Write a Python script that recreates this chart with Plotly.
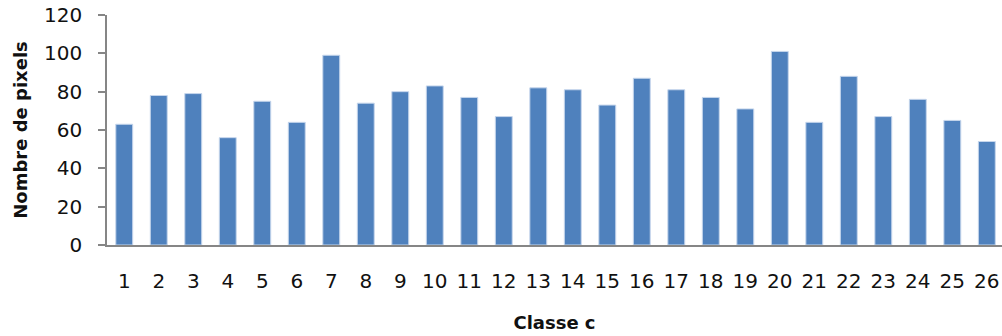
import plotly.graph_objects as go

# Pixel counts per class
classes = list(range(1, 27))
pixel_counts = [63, 78, 79, 56, 75, 64, 99, 74, 80, 83, 77, 67, 82,
                81, 73, 87, 81, 77, 71, 101, 64, 88, 67, 76, 65, 54]
y_ticks = [0, 20, 40, 60, 80, 100, 120]

BAR_BLUE = "#4F81BD"
BAR_EDGE = "#C6D6EC"
AXIS_GREY = "#868686"
TEXT = "#111111"
FONT = "'DejaVu Sans', sans-serif"

fig = go.Figure(
    go.Bar(
        x=classes,
        y=pixel_counts,
        marker=dict(color=BAR_BLUE, line=dict(color=BAR_EDGE, width=1)),
        width=0.49,
    )
)

fig.update_layout(
    width=1002,
    height=336,
    margin=dict(l=107, r=0, t=15, b=91),
    paper_bgcolor="white",
    plot_bgcolor="white",
    showlegend=False,
    font=dict(family=FONT, color=TEXT, size=20),
)

fig.update_xaxes(
    range=[0.5, 26.44],
    tickmode="array",
    tickvals=classes,
    ticktext=[str(c) for c in classes],
    showline=True,
    linecolor=AXIS_GREY,
    linewidth=1.5,
    ticks="",
    ticklabelstandoff=17,
    showgrid=False,
    zeroline=False,
    tickfont=dict(family=FONT, size=20, color=TEXT),
    title=dict(text="<b>Classe c</b>", font=dict(family=FONT, size=18, color=TEXT), standoff=25),
)

fig.update_yaxes(
    range=[0, 120],
    tickmode="array",
    tickvals=y_ticks,
    showline=True,
    linecolor=AXIS_GREY,
    linewidth=1.5,
    ticks="outside",
    ticklen=7,
    tickcolor=AXIS_GREY,
    tickwidth=1.5,
    ticklabelstandoff=12,
    showgrid=False,
    zeroline=False,
    tickfont=dict(family=FONT, size=20, color=TEXT),
    title=dict(text="<b>Nombre de pixels</b>", font=dict(family=FONT, size=18, color=TEXT), standoff=12),
)

fig.write_html("out.html")
